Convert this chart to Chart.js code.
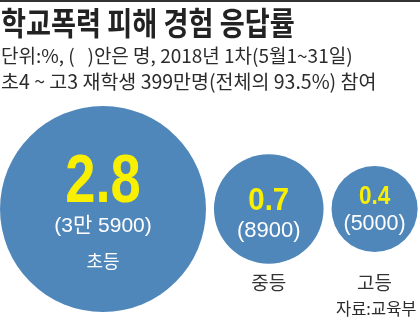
<!DOCTYPE html>
<html><head><meta charset="utf-8">
<script src="https://cdn.jsdelivr.net/npm/chart.js@4/dist/chart.umd.min.js"></script>
<style>
html,body{margin:0;padding:0;background:#fff;width:420px;height:323px;overflow:hidden;}
#wrap{position:absolute;left:0;top:0;width:420px;height:323px;}
.t{position:absolute;white-space:nowrap;font-family:"Noto Sans CJK KR","Noto Sans",sans-serif;color:#2b2b2b;transform-origin:left top;}
#topline{position:absolute;left:0;top:0;width:420px;height:2px;background:#333;}
#title{left:1px;top:5px;font-size:32px;font-weight:700;line-height:1;transform:scaleX(0.85);color:#222;}
#sub1{left:1px;top:45px;font-size:19px;line-height:1;}
#sub2{left:1px;top:71px;font-size:19.5px;line-height:1;}
#src{left:336px;top:300px;font-size:16.5px;line-height:1;}
</style></head>
<body>
<div id="wrap"><canvas id="c" width="420" height="323"></canvas></div>
<div id="topline"></div>
<div class="t" id="title">학교폭력 피해 경험 응답률</div>
<div class="t" id="sub1">단위:%, (&nbsp;&nbsp;&nbsp;)안은 명, 2018년 1차(5월1~31일)</div>
<div class="t" id="sub2">초4 ~ 고3 재학생 399만명(전체의 93.5%) 참여</div>
<div class="t" id="src">자료:교육부</div>
<script>
const categories = ['초등', '중등', '고등'];
const rates = [2.8, 0.7, 0.4];
const counts = ['3만 5900', '8900', '5000'];

// bubble geometry derived from the values
const radii = rates.map(v => 6.6 + 57.6 * Math.sqrt(v));
const xs = [];
radii.forEach((r, i) => {
  xs.push(i === 0 ? r : xs[i - 1] + radii[i - 1] + r + 8);
});
const CY = 209;
const points = rates.map((v, i) => ({ x: xs[i], y: CY, r: radii[i], v: v }));

const KR = '"Noto Sans CJK KR", sans-serif';
const NUM = '"Liberation Sans", Arial, sans-serif';

const labelPlugin = {
  id: 'bubbleLabels',
  afterDatasetsDraw(chart) {
    const ctx = chart.ctx;
    const meta = chart.getDatasetMeta(0);
    meta.data.forEach((el, i) => {
      const x = el.x, y = el.y;
      ctx.save();
      ctx.textAlign = 'center';
      ctx.textBaseline = 'alphabetic';
      if (i === 0) {
        ctx.fillStyle = '#f8f000';
        ctx.font = 'bold 68px ' + NUM;
        ctx.save(); ctx.translate(x, y - 7); ctx.scale(0.8, 1);
        ctx.fillText(rates[i].toFixed(1), 0, 0); ctx.restore();
        ctx.fillStyle = '#ffffff';
        ctx.font = '21px "Liberation Sans", "Noto Sans CJK KR", sans-serif';
        ctx.fillText('(' + counts[i] + ')', x, y + 23);
        ctx.font = '18px ' + KR;
        ctx.fillText(categories[i], x, y + 59);
      } else {
        const big = i === 1;
        ctx.fillStyle = '#f8f000';
        ctx.font = 'bold ' + (big ? 32 : 25) + 'px ' + NUM;
        ctx.save(); ctx.translate(x, big ? y + 1 : y - 5); ctx.scale(big ? 0.92 : 0.9, 1);
        ctx.fillText(rates[i].toFixed(1), 0, 0); ctx.restore();
        ctx.fillStyle = '#ffffff';
        ctx.font = (big ? 22 : 21.5) + 'px ' + NUM;
        ctx.fillText('(' + counts[i] + ')', x, big ? y + 28 : y + 21);
        ctx.fillStyle = '#333333';
        ctx.font = '19px ' + KR;
        ctx.fillText(categories[i], x, 290);
      }
      ctx.restore();
    });
  }
};

new Chart(document.getElementById('c'), {
  type: 'bubble',
  data: {
    labels: categories,
    datasets: [{
      data: points,
      backgroundColor: '#5087ba',
      borderWidth: 0,
      hoverRadius: 0,
      clip: false
    }]
  },
  options: {
    responsive: false,
    animation: false,
    events: [],
    layout: { padding: 0, autoPadding: false },
    plugins: { legend: { display: false }, tooltip: { enabled: false } },
    scales: {
      x: { type: 'linear', display: false, min: 0, max: 420 },
      y: { type: 'linear', display: false, min: 0, max: 323, reverse: true }
    }
  },
  plugins: [labelPlugin]
});
</script>
</body></html>
